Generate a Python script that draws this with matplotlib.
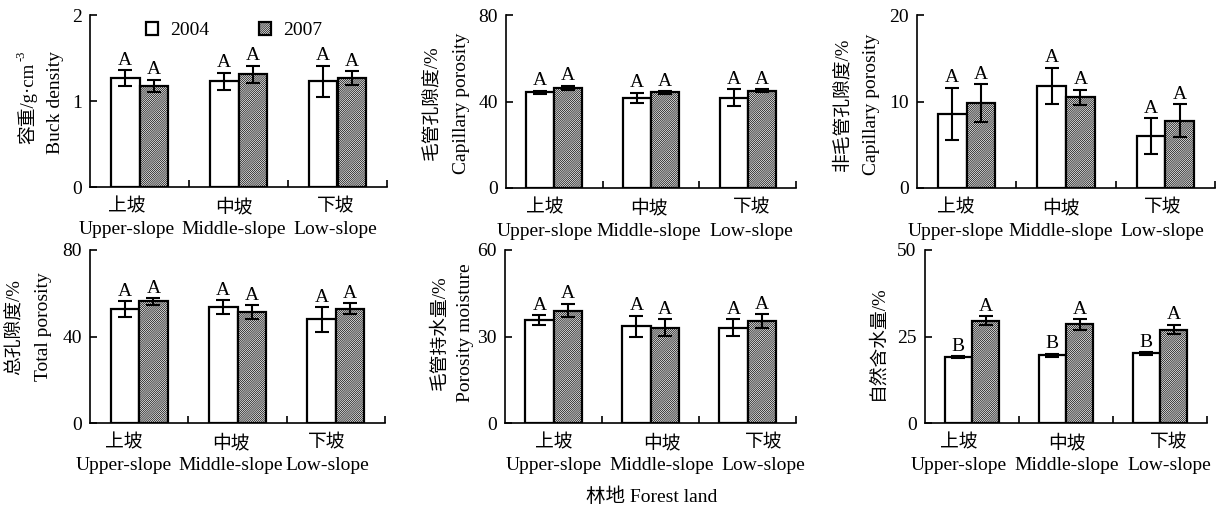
import numpy as np
import matplotlib
matplotlib.use('Agg')
import matplotlib.pyplot as plt

plt.rcParams['font.family'] = ['Liberation Serif', 'Noto Sans CJK SC']
plt.rcParams['font.size'] = 14
plt.rcParams['hatch.linewidth'] = 0.5

slopes_cn = ['上坡', '中坡', '下坡']
slopes_en = ['Upper-slope', 'Middle-slope', 'Low-slope']
years = ['2004', '2007']

# bulk density g/cm3
bd_04 = [1.27, 1.23, 1.23]
bd_04_err = [0.09, 0.10, 0.18]
bd_07 = [1.18, 1.31, 1.27]
bd_07_err = [0.07, 0.10, 0.08]

# capillary porosity %
cp_04 = [44.2, 41.7, 41.7]
cp_04_err = [0.8, 2.3, 3.9]
cp_07 = [46.3, 44.2, 45.0]
cp_07_err = [1.0, 0.7, 0.6]

# non-capillary porosity %
ncp_04 = [8.6, 11.8, 6.0]
ncp_04_err = [3.0, 2.1, 2.1]
ncp_07 = [9.8, 10.5, 7.8]
ncp_07_err = [2.2, 0.85, 1.9]

# total porosity %
tp_04 = [52.8, 53.6, 47.9]
tp_04_err = [3.6, 3.2, 5.7]
tp_07 = [56.2, 51.4, 52.8]
tp_07_err = [1.6, 3.1, 2.5]

# capillary moisture %
pm_04 = [35.6, 33.6, 33.0]
pm_04_err = [1.7, 3.6, 2.9]
pm_07 = [39.0, 33.0, 35.4]
pm_07_err = [2.4, 2.9, 2.3]

# natural moisture %
nm_04 = [19.1, 19.6, 20.1]
nm_04_err = [0.25, 0.45, 0.35]
nm_07 = [29.5, 28.5, 27.0]
nm_07_err = [1.3, 1.5, 1.4]

letters_A = [['A', 'A', 'A'], ['A', 'A', 'A']]
letters_nm = [['B', 'B', 'B'], ['A', 'A', 'A']]

W, H = 1219, 508
fig = plt.figure(figsize=(W / 100, H / 100), dpi=100)

# (values04, err04, values07, err07, letters, ymax, ylabel cn, ylabel en,
#  axes px box [left, right, top, bottom], ylabel px [x_cn, x_en, y], label shifts px)
panels = [
    (bd_04, bd_04_err, bd_07, bd_07_err, letters_A, 2, '容重/g·cm', 'Buck density',
     [90, 387, 15, 187], [27, 55, 103], [-13, -5, -2]),
    (cp_04, cp_04_err, cp_07, cp_07_err, letters_A, 80, '毛管孔隙度/%', 'Capillary porosity',
     [506, 796, 15, 188], [433, 462, 103], [-10, -2, 4]),
    (ncp_04, ncp_04_err, ncp_07, ncp_07_err, letters_A, 20, '非毛管孔隙度/%', 'Capillary porosity',
     [917, 1215, 15, 188], [843, 872, 104], [-11, -5, -3]),
    (tp_04, tp_04_err, tp_07, tp_07_err, letters_A, 80, '总孔隙度/%', 'Total porosity',
     [90, 385, 250, 423], [15, 43, 327], [-15, -7, -9]),
    (pm_04, pm_04_err, pm_07, pm_07_err, letters_A, 60, '毛管持水量/%', 'Porosity moisture',
     [505, 796, 250, 423], [440, 465, 333], [0, 11, 16]),
    (nm_04, nm_04_err, nm_07, nm_07_err, letters_nm, 50, '自然含水量/%', None,
     [925, 1207, 250, 423], [878, None, 343], [-13, 1, 9]),
]

x = np.arange(3)
w = 0.29
px2pt = 0.72
first_cn = None

for k, (v4, e4, v7, e7, lets, ymax, ycn, yen, box, ylp, shifts) in enumerate(panels):
    l, r, t, b = box
    ax = fig.add_axes([l / W, 1 - b / H, (r - l) / W, (b - t) / H])
    b1 = ax.bar(x - w / 2, v4, w, color='white', edgecolor='black', linewidth=1.6,
                label=years[0], zorder=2)
    b2 = ax.bar(x + w / 2, v7, w, color='white', edgecolor='black', linewidth=1.6,
                hatch='////////////////', label=years[1], zorder=2)
    ax.errorbar(x - w / 2, v4, yerr=e4, fmt='none', ecolor='black', elinewidth=1.5,
                capsize=5, capthick=1.5, zorder=3)
    ax.errorbar(x + w / 2, v7, yerr=e7, fmt='none', ecolor='black', elinewidth=1.5,
                capsize=5, capthick=1.5, zorder=3)
    for j in range(3):
        ax.annotate(lets[0][j], (x[j] - w / 2, v4[j] + e4[j]), xytext=(0, 1),
                    textcoords='offset points', ha='center', va='bottom', fontsize=14)
        ax.annotate(lets[1][j], (x[j] + w / 2, v7[j] + e7[j]), xytext=(0, 1),
                    textcoords='offset points', ha='center', va='bottom', fontsize=14)
        ax.annotate(slopes_cn[j], (x[j], 0), xycoords=('data', 'axes fraction'),
                    xytext=(shifts[j] * px2pt, -20 * px2pt), textcoords='offset points',
                    ha='center', va='center', fontsize=13.5)
        ax.annotate(slopes_en[j], (x[j], 0), xycoords=('data', 'axes fraction'),
                    xytext=(shifts[j] * px2pt, -43 * px2pt), textcoords='offset points',
                    ha='center', va='center', fontsize=14)

    ax.set_xlim(-0.5, 2.5)
    ax.set_ylim(0, ymax)
    ax.set_yticks([0, ymax / 2, ymax])
    ax.set_yticklabels([f'{v:g}' for v in [0, ymax / 2, ymax]])
    ax.set_xticks([])
    ax.set_xticks([0.5, 1.5, 2.5], minor=True)
    ax.tick_params(axis='x', which='minor', direction='in', length=5, width=1.2)
    ax.tick_params(axis='y', direction='in', length=5, width=1.2, labelsize=14, pad=6)
    for s in ['top', 'right']:
        ax.spines[s].set_visible(False)
    for s in ['left', 'bottom']:
        ax.spines[s].set_linewidth(1.2)

    t_cn = fig.text(ylp[0] / W, 1 - ylp[2] / H, ycn, rotation=90, ha='center', va='center',
                    fontsize=13.5)
    if yen:
        fig.text(ylp[1] / W, 1 - ylp[2] / H, yen, rotation=90, ha='center', va='center',
                 fontsize=14)
    if k == 0:
        first_cn = t_cn
        ax.legend([b1, b2], years, loc='upper center', bbox_to_anchor=(0.485, 1.06), ncol=2,
                  frameon=False, handlelength=0.6, handleheight=0.6, columnspacing=2.6,
                  handletextpad=0.6, fontsize=14)

fig.text(652 / W, 1 - 497 / H, '林地 Forest land', ha='center', va='center', fontsize=14)

# superscript -3 after g·cm
fig.canvas.draw()
bb = first_cn.get_window_extent()
fig.text((bb.x0 + bb.width / 2 - 5) / W, (bb.y1 + 1) / H, '-3', rotation=90,
         ha='center', va='bottom', fontsize=9)

fig.savefig('out.png', dpi=100)
